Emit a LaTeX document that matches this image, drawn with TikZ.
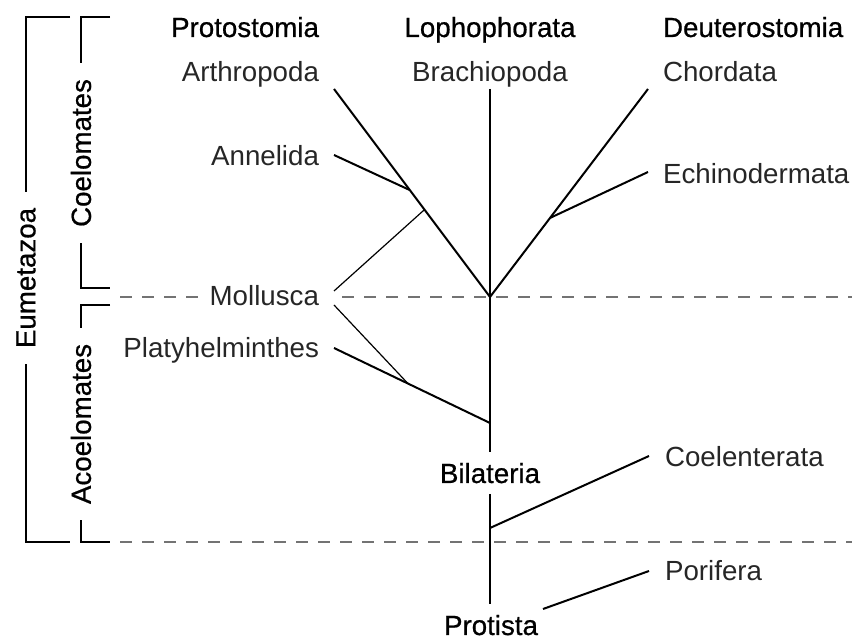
\documentclass[tikz,border=0pt]{standalone}
\usepackage{fontspec}
\setmainfont{Liberation Sans}
\newfontfamily\headfont{Liberation Sans}[FakeBold=0.7]
\usetikzlibrary{calc}

\begin{document}
\begin{tikzpicture}[x=0.5pt, y=-0.5pt,
	every node/.style={font=\fontsize{13.85pt}{16pt}\selectfont},
	taxon/.style={text=black!85},
	group/.style={font=\fontsize{13.85pt}{16pt}\selectfont\headfont, outer ysep=2pt},
	clade/.style={font=\fontsize{13.85pt}{16pt}\selectfont\headfont, rotate=90, inner xsep=8pt},
	branch/.style={line width=1pt},
	link/.style={line width=0.6pt},
	divide/.style={black!55, line width=0.9pt, dash pattern=on 6pt off 5pt},
	bracket/.style={line width=1pt}]
	\useasboundingbox (0,0) rectangle (852,640);
	% column heads and taxa
	\node[group, anchor=base east] (proto) at (326,37) {Protostomia};
	\node[group, anchor=base] (loph) at (490,37) {Lophophorata};
	\node[group, anchor=base west] (deut) at (656,37) {Deuterostomia};
	\node[taxon, anchor=base east] (arth) at (326,82) {Arthropoda};
	\node[taxon, anchor=base] (brach) at (490,82) {Brachiopoda};
	\node[taxon, anchor=base west] (chord) at (656,82) {Chordata};
	\node[taxon, anchor=base east] (anne) at (326,166) {Annelida};
	\node[taxon, anchor=base west] (echi) at (656,184) {Echinodermata};
	\node[taxon, anchor=base east] (moll) at (326,306) {Mollusca};
	\node[taxon, anchor=base east] (platy) at (326,358) {Platyhelminthes};
	\node[group, anchor=base] (bil) at (490,483) {Bilateria};
	\node[taxon, anchor=base west] (coel) at (658,467) {Coelenterata};
	\node[taxon, anchor=base west] (pori) at (658,581) {Porifera};
	\node[group, anchor=base] (prot) at (491,635) {Protista};
	% grades on the left
	\node[clade] (eum) at (26,278) {Eumetazoa};
	\node[clade] (coe) at (81,153) {Coelomates};
	\node[clade] (acoe) at (81,424) {Acoelomates};
	% tree points
	\coordinate (root) at (490,297);
	\coordinate (pj) at (490,423);
	\coordinate (cj) at (490,528);
	\coordinate (brachend) at (490,89);
	\coordinate (arthend) at (334,89);
	\coordinate (anneend) at (334,155);
	\coordinate (mollup) at (334,291);
	\coordinate (molldn) at (334,305);
	\coordinate (platyend) at (334,348);
	\coordinate (chordend) at (648,89);
	\coordinate (echiend) at (648,172);
	\coordinate (coelend) at (649,456);
	\coordinate (poriend) at (649,571);
	\coordinate (poristart) at (543,609);
	\coordinate (eumtop) at (70,17);
	\coordinate (eumbot) at (70,542);
	\coordinate (coetop) at (110,17);
	\coordinate (coebot) at (110,288);
	\coordinate (acoetop) at (110,305);
	\coordinate (acoebot) at (110,542);
	\coordinate (upL) at (120,297);
	\coordinate (upM) at (342,297);
	\coordinate (upR) at (852,297);
	\coordinate (loL) at (120,542);
	\coordinate (loR) at (852,542);
	% level lines
	\draw[divide] (upL) -- (upL -| moll.west);
	\draw[divide] (upM) -- (upR);
	\draw[divide] (loL) -- (loR);
	% brackets
	\draw[bracket] (eumtop) -| (eum);
	\draw[bracket] (eum) |- (eumbot);
	\draw[bracket] (coetop) -| (coe);
	\draw[bracket] (coe) |- (coebot);
	\draw[bracket] (acoetop) -| (acoe);
	\draw[bracket] (acoe) |- (acoebot);
	% tree
	\draw[branch] (brachend) -- (bil.north);
	\draw[branch] (bil.south) -- (bil.south |- prot.north);
	\draw[branch] (arthend) -- (root) -- (chordend);
	\draw[branch] (anneend) -- ($(arthend)!0.486!(root)$);
	\draw[link] (mollup) -- ($(arthend)!0.58!(root)$);
	\draw[branch] (echiend) -- ($(root)!0.38!(chordend)$);
	\draw[branch] (platyend) -- (pj);
	\draw[link] (molldn) -- ($(platyend)!0.474!(pj)$);
	\draw[branch] (cj) -- (coelend);
	\draw[branch] (poristart) -- (poriend);
\end{tikzpicture}
\end{document}
